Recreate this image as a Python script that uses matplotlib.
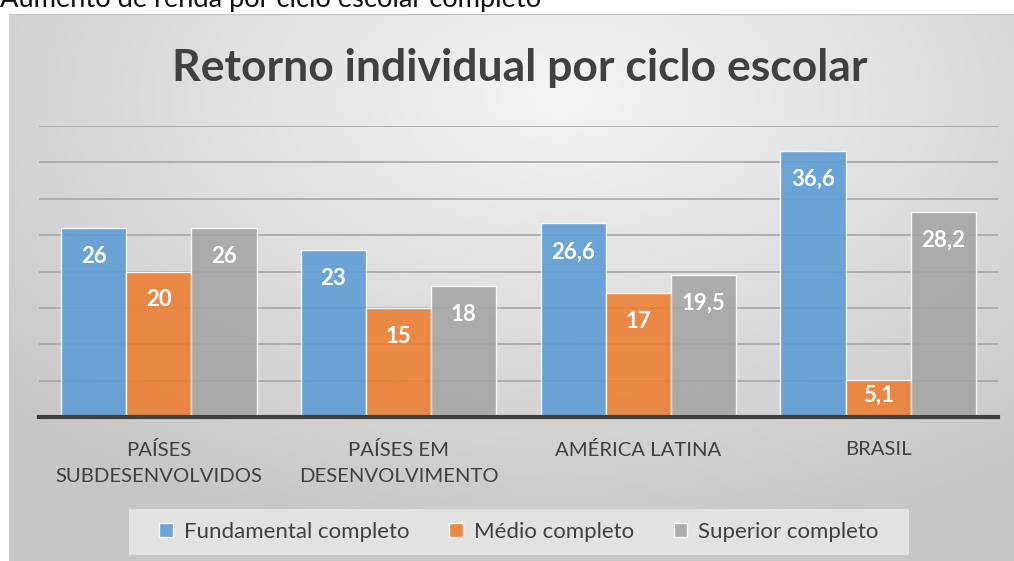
import numpy as np
import matplotlib
matplotlib.use("Agg")
import matplotlib.pyplot as plt
from matplotlib.patches import Rectangle

# ── Dados ────────────────────────────────────────────────────────────────────
categorias = ["PAÍSES\nSUBDESENVOLVIDOS", "PAÍSES EM\nDESENVOLVIMENTO",
              "AMÉRICA LATINA", "BRASIL"]
series = ["Fundamental completo", "Médio completo", "Superior completo"]
fundamental = [26, 23, 26.6, 36.6]
medio = [20, 15, 17, 5.1]
superior = [26, 18, 19.5, 28.2]
rotulos_fund = ["26", "23", "26,6", "36,6"]
rotulos_medio = ["20", "15", "17", "5,1"]
rotulos_sup = ["26", "18", "19,5", "28,2"]

titulo = "Retorno individual por ciclo escolar"
legenda_topo = "Aumento de renda por ciclo escolar completo"

cores = ["#5b9bd5", "#ed7d31", "#a5a5a5"]
TXT = "#404040"
FONTE = "Lato"

W, H = 1014, 561
fig = plt.figure(figsize=(W / 100, H / 100), dpi=100)
fig.patch.set_facecolor("white")

# ── Fundo com gradiente radial (área do gráfico) ─────────────────────────────
x0, y0 = 9 / W, 0.0
bg = fig.add_axes([x0, y0, 1 - x0, 1 - 14 / H - y0])
bg.set_axis_off()
gx, gy = np.meshgrid(np.linspace(0, 1, 400), np.linspace(0, 1, 220))
dist = np.sqrt(((gx - 0.55) / 1.0) ** 2 + ((gy - 0.15) / 1.1) ** 2)
dist = np.clip(dist / 0.75, 0, 1)
claro, escuro = np.array([0.96, 0.96, 0.96]), np.array([0.78, 0.78, 0.78])
img = claro[None, None, :] * (1 - dist[..., None]) + escuro[None, None, :] * dist[..., None]
bg.imshow(img, extent=[0, 1, 0, 1], aspect="auto", origin="upper")
bg.set_xlim(0, 1)
bg.set_ylim(0, 1)
bg.axhline(1, color="#bfbfbf", linewidth=1.5)

# caixa da legenda
fig.patches.append(Rectangle((129 / W, 1 - 555 / H), (909 - 129) / W, 46 / H,
                             transform=fig.transFigure, facecolor="#e2e2e2",
                             edgecolor="none", zorder=1))

# ── Eixo principal ───────────────────────────────────────────────────────────
ax = fig.add_axes([39 / W, 1 - 417 / H, (998 - 39) / W, (417 - 126) / H])
ax.patch.set_alpha(0)
x = np.arange(len(categorias))
w = 0.272
for i, (vals, rot) in enumerate(zip([fundamental, medio, superior],
                                    [rotulos_fund, rotulos_medio, rotulos_sup])):
    pos = x + (i - 1) * w
    ax.bar(pos, vals, w, color=cores[i], alpha=0.88, edgecolor=(1, 1, 1, 0.5),
           linewidth=1, zorder=3, label=series[i])
    for p, v, r in zip(pos, vals, rot):
        ax.text(p, max(v - 3.9, v * 0.6), r, ha="center", va="center",
                color="white", fontsize=16, fontweight="bold",
                family=FONTE, zorder=4)

ax.set_xlim(-0.5, len(categorias) - 0.5)
ax.set_ylim(0, 40)
ax.set_yticks(np.arange(5, 41, 5))
ax.yaxis.grid(True, color="#a6a6a6", linewidth=1.2, zorder=1)
ax.tick_params(axis="y", left=False, labelleft=False)
ax.tick_params(axis="x", length=0, pad=17)
for s in ["top", "right", "left"]:
    ax.spines[s].set_visible(False)
ax.spines["bottom"].set_color(TXT)
ax.spines["bottom"].set_linewidth(3)
ax.spines["bottom"].set_zorder(5)
ax.set_xticks(x)
ax.set_xticklabels(categorias, fontsize=14.6, color=TXT, family=FONTE,
                   linespacing=1.7, va="top")

# ── Títulos ──────────────────────────────────────────────────────────────────
fig.text(520 / W, 1 - 68 / H, titulo, ha="center", va="center",
         fontsize=32, fontweight="bold", color=TXT, family=FONTE)
fig.text(0, 1 - 7 / H, legenda_topo, ha="left", va="baseline",
         fontsize=19.6, color="#111111", family=FONTE)

# ── Legenda ──────────────────────────────────────────────────────────────────
leg = fig.legend(loc="center", bbox_to_anchor=(519 / W, 1 - 532 / H), ncol=3,
                 frameon=False, handlelength=0.6, handleheight=0.6,
                 handletextpad=0.5, columnspacing=1.8,
                 prop={"family": FONTE, "size": 16})
for t in leg.get_texts():
    t.set_color(TXT)

fig.savefig("out.png", dpi=100, facecolor="white")
